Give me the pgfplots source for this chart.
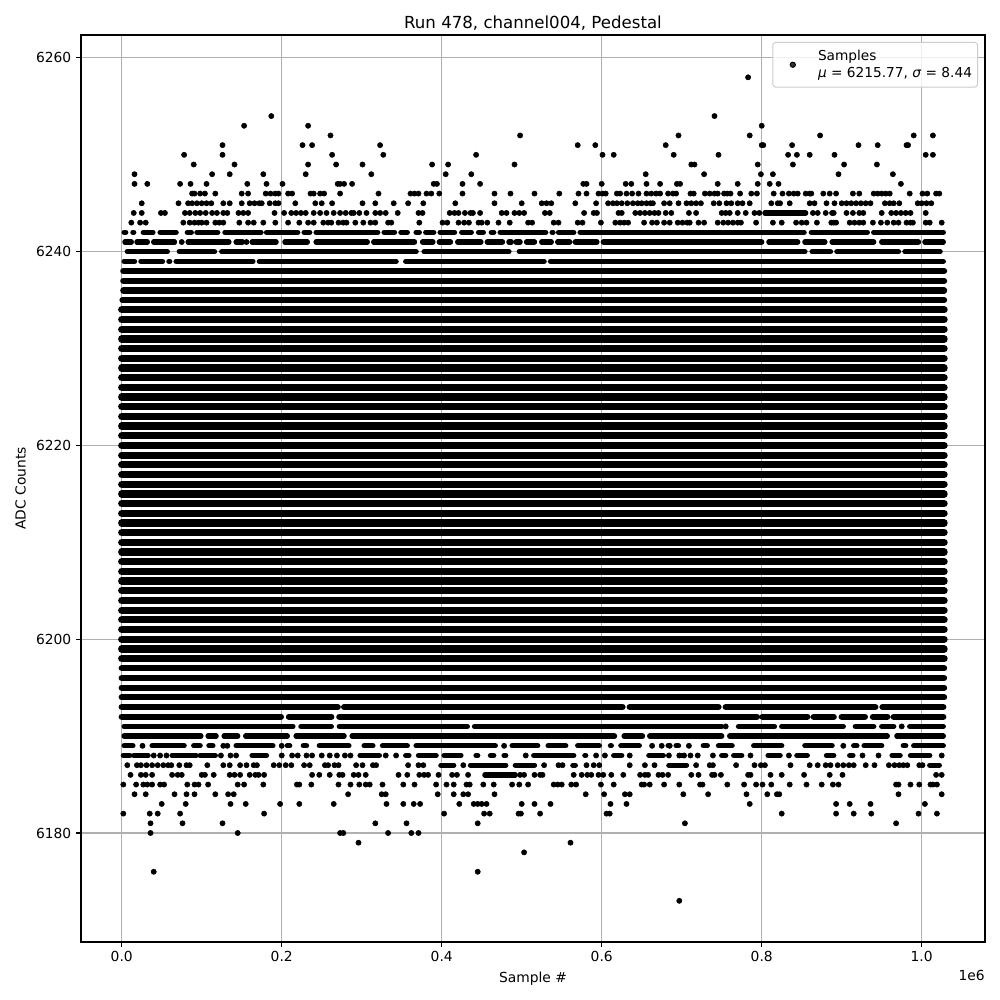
\documentclass[border=0pt]{standalone}
\usepackage{fontspec}
\setmainfont{DejaVu Sans}
\usepackage{pgfplots}
\pgfplotsset{compat=1.18}
\definecolor{gridc}{HTML}{B0B0B0}
% x values are in thousands of samples (axis factor 1e6 shown with ticks 0.0 ... 1.0)
\pgfplotstableread{
x y
783 6258
187 6254
741 6254
153 6253
233 6253
800 6253
261 6252
498 6252
696 6252
785 6252
873 6252
990 6252
1014 6252
126 6251
226 6251
238 6251
323 6251
570 6251
592 6251
680 6251
800 6251
802 6251
838 6251
921 6251
945 6251
981 6251
983 6251
78 6250
126 6250
263 6250
327 6250
443 6250
601 6250
615 6250
690 6250
746 6250
833 6250
844 6250
860 6250
891 6250
1005 6250
1014 6250
90 6249
141 6249
233 6249
268 6249
301 6249
388 6249
408 6249
491 6249
712 6249
716 6249
795 6249
839 6249
903 6249
944 6249
16 6248
113 6248
135 6248
177 6248
230 6248
312 6248
405 6248
437 6248
655 6248
728 6248
799 6248
814 6248
896 6248
964 6248
16 6247
32 6247
73 6247
86 6247
106 6247
157 6247
181 6247
201 6247
270 6247
273 6247
278 6247
288 6247
390 6247
394 6247
426 6247
448 6247
577 6247
581 6247
600 6247
630 6247
637 6247
656 6247
673 6247
694 6247
698 6247
745 6247
770 6247
795 6247
810 6247
821 6247
974 6247
88 6246
91 6246
98 6246
104 6246
117 6246
150 6246
158 6246
180 6246
186 6246
192 6246
196 6246
208 6246
213 6246
236 6246
240 6246
248 6246
253 6246
273 6246
321 6246
361 6246
366 6246
371 6246
381 6246
387 6246
397 6246
426 6246
466 6246
486 6246
516 6246
547 6246
571 6246
581 6246
596 6246
601 6246
605 6246
619 6246
623 6246
631 6246
638 6246
646 6246
656 6246
662 6246
668 6246
673 6246
683 6246
689 6246
693 6246
711 6246
715 6246
729 6246
735 6246
741 6246
745 6246
753 6246
757 6246
761 6246
773 6246
787 6246
794 6246
815 6246
826 6246
834 6246
840 6246
845 6246
855 6246
860 6246
862 6246
877 6246
885 6246
893 6246
914 6246
922 6246
940 6246
945 6246
950 6246
955 6246
960 6246
985 6246
1001 6246
1007 6246
1018 6246
1022 6246
25 6245
71 6245
83 6245
88 6245
94 6245
100 6245
106 6245
112 6245
127 6245
135 6245
150 6245
160 6245
166 6245
172 6245
175 6245
185 6245
192 6245
196 6245
217 6245
242 6245
250 6245
263 6245
301 6245
317 6245
340 6245
358 6245
377 6245
417 6245
466 6245
500 6245
525 6245
531 6245
537 6245
567 6245
593 6245
608 6245
614 6245
619 6245
625 6245
632 6245
639 6245
645 6245
650 6245
656 6245
661 6245
664 6245
678 6245
685 6245
696 6245
706 6245
712 6245
718 6245
724 6245
740 6245
747 6245
756 6245
762 6245
770 6245
776 6245
785 6245
812 6245
820 6245
823 6245
835 6245
860 6245
866 6245
881 6245
891 6245
900 6245
906 6245
912 6245
918 6245
924 6245
930 6245
936 6245
954 6245
960 6245
965 6245
972 6245
995 6245
1000 6245
1006 6245
1012 6245
15 6244
25 6244
49 6244
54 6244
79 6244
85 6244
92 6244
98 6244
105 6244
113 6244
119 6244
127 6244
132 6244
146 6244
152 6244
158 6244
191 6244
203 6244
212 6244
218 6244
224 6244
230 6244
240 6244
248 6244
256 6244
265 6244
273 6244
280 6244
287 6244
290 6244
297 6244
306 6244
317 6244
323 6244
330 6244
345 6244
371 6244
376 6244
410 6244
416 6244
421 6244
429 6244
436 6244
439 6244
448 6244
475 6244
481 6244
491 6244
497 6244
503 6244
529 6244
535 6244
578 6244
590 6244
594 6244
621 6244
625 6244
642 6244
648 6244
654 6244
660 6244
666 6244
671 6244
680 6244
687 6244
709 6244
718 6244
750 6244
755 6244
760 6244
770 6244
780 6244
791 6244
797 6244
864 6244
870 6244
880 6244
888 6244
890 6244
906 6244
914 6244
922 6244
927 6244
950 6244
962 6244
968 6244
974 6244
980 6244
986 6244
1005 6244
12 6243
23 6243
30 6243
77 6243
85 6243
91 6243
96 6243
100 6243
106 6243
117 6243
122 6243
127 6243
147 6243
158 6243
165 6243
177 6243
192 6243
208 6243
222 6243
233 6243
240 6243
252 6243
258 6243
262 6243
271 6243
277 6243
281 6243
292 6243
302 6243
311 6243
317 6243
333 6243
337 6243
372 6243
401 6243
407 6243
421 6243
428 6243
434 6243
446 6243
450 6243
457 6243
471 6243
485 6243
508 6243
513 6243
540 6243
546 6243
570 6243
576 6243
599 6243
617 6243
623 6243
628 6243
633 6243
653 6243
663 6243
669 6243
678 6243
685 6243
695 6243
701 6243
707 6243
710 6243
721 6243
728 6243
745 6243
752 6243
758 6243
764 6243
770 6243
774 6243
793 6243
814 6243
825 6243
843 6243
850 6243
856 6243
869 6243
887 6243
890 6243
893 6243
910 6243
916 6243
922 6243
927 6243
939 6243
949 6243
957 6243
965 6243
971 6243
981 6243
986 6243
989 6243
1005 6243
1010 6243
1025 6243
75 6241
156 6241
755 6191
975 6191
26 6189
127 6189
132 6189
200 6189
478 6189
663 6189
675 6189
685 6189
709 6189
902 6189
40 6188
48 6188
56 6188
124 6188
136 6188
143 6188
200 6188
213 6188
220 6188
231 6188
238 6188
250 6188
260 6188
269 6188
279 6188
286 6188
330 6188
343 6188
505 6188
593 6188
604 6188
635 6188
684 6188
697 6188
703 6188
711 6188
720 6188
739 6188
786 6188
834 6188
926 6188
946 6188
1025 6188
7 6187
19 6187
24 6187
31 6187
38 6187
45 6187
52 6187
58 6187
62 6187
72 6187
81 6187
85 6187
107 6187
127 6187
135 6187
148 6187
156 6187
165 6187
169 6187
190 6187
197 6187
205 6187
212 6187
228 6187
235 6187
254 6187
258 6187
266 6187
271 6187
293 6187
301 6187
314 6187
318 6187
358 6187
371 6187
377 6187
427 6187
528 6187
546 6187
551 6187
581 6187
590 6187
597 6187
635 6187
654 6187
666 6187
718 6187
735 6187
739 6187
768 6187
791 6187
799 6187
804 6187
836 6187
860 6187
870 6187
880 6187
886 6187
895 6187
902 6187
909 6187
915 6187
930 6187
941 6187
959 6187
966 6187
972 6187
977 6187
982 6187
997 6187
1001 6187
11 6186
24 6186
30 6186
38 6186
63 6186
70 6186
75 6186
100 6186
104 6186
115 6186
135 6186
141 6186
148 6186
160 6186
167 6186
171 6186
178 6186
238 6186
247 6186
260 6186
272 6186
276 6186
290 6186
296 6186
305 6186
346 6186
357 6186
372 6186
378 6186
383 6186
396 6186
413 6186
419 6186
433 6186
498 6186
503 6186
516 6186
523 6186
526 6186
565 6186
575 6186
582 6186
587 6186
596 6186
602 6186
612 6186
627 6186
648 6186
654 6186
658 6186
671 6186
676 6186
683 6186
712 6186
721 6186
738 6186
741 6186
749 6186
783 6186
786 6186
811 6186
825 6186
853 6186
885 6186
901 6186
1018 6186
1025 6186
2 6185
18 6185
27 6185
32 6185
38 6185
48 6185
53 6185
82 6185
91 6185
96 6185
108 6185
145 6185
153 6185
177 6185
219 6185
222 6185
237 6185
271 6185
286 6185
297 6185
305 6185
310 6185
326 6185
352 6185
366 6185
393 6185
406 6185
415 6185
431 6185
435 6185
452 6185
465 6185
488 6185
497 6185
508 6185
540 6185
545 6185
550 6185
562 6185
568 6185
599 6185
615 6185
650 6185
653 6185
660 6185
678 6185
697 6185
723 6185
726 6185
757 6185
778 6185
793 6185
801 6185
812 6185
835 6185
856 6185
875 6185
889 6185
896 6185
968 6185
971 6185
986 6185
997 6185
1011 6185
1014 6185
1019 6185
16 6184
30 6184
66 6184
81 6184
91 6184
117 6184
133 6184
140 6184
283 6184
325 6184
330 6184
395 6184
415 6184
427 6184
433 6184
466 6184
580 6184
603 6184
629 6184
635 6184
702 6184
733 6184
781 6184
807 6184
819 6184
822 6184
971 6184
1025 6184
50 6183
80 6183
136 6183
155 6183
198 6183
222 6183
265 6183
331 6183
352 6183
365 6183
373 6183
422 6183
440 6183
445 6183
450 6183
456 6183
500 6183
516 6183
536 6183
611 6183
631 6183
785 6183
893 6183
910 6183
936 6183
1004 6183
2 6182
35 6182
45 6182
73 6182
178 6182
403 6182
453 6182
460 6182
496 6182
499 6182
523 6182
606 6182
610 6182
825 6182
893 6182
915 6182
937 6182
996 6182
1019 6182
36 6181
76 6181
126 6181
317 6181
356 6181
445 6181
704 6181
968 6181
36 6180
145 6180
273 6180
277 6180
333 6180
362 6180
371 6180
296 6179
561 6179
503 6178
40 6176
445 6176
697 6173
}\pointsdata
\begin{document}
\begin{tikzpicture}
\path[use as bounding box] (-58.54pt,-41.92pt) rectangle ++(722.7pt,722.7pt);
\begin{axis}[
  at={(0,0)}, anchor=south west,
  scale only axis, width=653.3pt, height=655.5pt,
  xmin=-50.9, xmax=1079.1, ymin=6168.75, ymax=6262.37,
  xtick={0,200,400,600,800,1000},
  xticklabels={0.0,0.2,0.4,0.6,0.8,1.0},
  ytick={6180,6200,6220,6240,6260},
  yticklabels={6180,6200,6220,6240,6260},
  tick align=outside, tick pos=left,
  major tick length=3.5pt,
  every tick/.style={black,line width=0.8pt},
  axis line style={black,line width=0.8pt},
  grid=major, major grid style={gridc,line width=0.8pt},
  unbounded coords=jump,
  title={Run 478, channel004, Pedestal},
  title style={font=\fontsize{12}{14}\selectfont, yshift=-6.5pt},
  xlabel={Sample \#}, ylabel={ADC Counts},
  xlabel style={yshift=0pt}, ylabel style={yshift=0.5pt},
  tick label style={font=\fontsize{10}{12}\selectfont},
  label style={font=\fontsize{10}{12}\selectfont},
  legend style={at={(0.9923,0.9923)}, anchor=north east, rounded corners=2pt,
    draw=black!20, line width=0.7pt, fill=white, fill opacity=0.8, text opacity=1,
    font=\fontsize{9.9}{12}\selectfont, inner xsep=2pt, inner ysep=3.4pt},
  legend cell align=left,
  legend image code/.code={\path[draw=none] (-12.5pt,0) -- (16.2pt,0);
    \draw[#1] plot coordinates {(0pt,0pt)};},
  after end axis/.code={\node[anchor=north east, font=\fontsize{10}{12}\selectfont, inner sep=0pt] at (rel axis cs:1,0) [yshift=-20pt] {1e6};},
]
\addplot[only marks, mark=*, mark size=1.88pt, black, mark options={draw=none, fill=black}]
  table[x=x,y=y] {\pointsdata};
\addlegendentry{\shortstack[l]{Samples\\\textit{μ} = 6215.77, \textit{σ} = 8.44}}
% thin rows (with gaps)
\addplot[forget plot, black, line width=3.85pt, line cap=round] coordinates {
(3,6242)(5,6242)(nan,nan)(14,6242)(15,6242)(nan,nan)(27,6242)(39,6242)(nan,nan)(48,6242)(68,6242)(nan,nan)(82,6242)(87,6242)(nan,nan)(94,6242)(120,6242)(nan,nan)(129,6242)(174,6242)(nan,nan)(181,6242)(220,6242)(nan,nan)(228,6242)(235,6242)(nan,nan)(243,6242)(320,6242)(nan,nan)(328,6242)(341,6242)(nan,nan)(349,6242)(357,6242)(nan,nan)(368,6242)(372,6242)(nan,nan)(380,6242)(390,6242)(nan,nan)(398,6242)(416,6242)(nan,nan)(425,6242)(437,6242)(nan,nan)(446,6242)(452,6242)(nan,nan)(462,6242)(465,6242)(nan,nan)(473,6242)(530,6242)(nan,nan)(538,6242)(539,6242)(nan,nan)(546,6242)(565,6242)(nan,nan)(573,6242)(853,6242)(nan,nan)(862,6242)(932,6242)(nan,nan)(940,6242)(1027,6242)(nan,nan)
(4,6241)(12,6241)(nan,nan)(19,6241)(32,6241)(nan,nan)(40,6241)(66,6241)(nan,nan)(83,6241)(134,6241)(nan,nan)(143,6241)(151,6241)(nan,nan)(163,6241)(193,6241)(nan,nan)(204,6241)(232,6241)(nan,nan)(243,6241)(307,6241)(nan,nan)(315,6241)(366,6241)(nan,nan)(376,6241)(389,6241)(nan,nan)(397,6241)(411,6241)(nan,nan)(420,6241)(449,6241)(nan,nan)(457,6241)(476,6241)(nan,nan)(484,6241)(487,6241)(nan,nan)(493,6241)(498,6241)(nan,nan)(506,6241)(516,6241)(nan,nan)(525,6241)(537,6241)(nan,nan)(545,6241)(560,6241)(nan,nan)(567,6241)(594,6241)(nan,nan)(602,6241)(800,6241)(nan,nan)(809,6241)(845,6241)(nan,nan)(854,6241)(879,6241)(nan,nan)(888,6241)(940,6241)(nan,nan)(950,6241)(996,6241)(nan,nan)(1004,6241)(1027,6241)(nan,nan)
(7,6240)(57,6240)(nan,nan)(72,6240)(116,6240)(nan,nan)(125,6240)(368,6240)(nan,nan)(378,6240)(484,6240)(nan,nan)(497,6240)(854,6240)(nan,nan)(863,6240)(886,6240)(nan,nan)(894,6240)(971,6240)(nan,nan)(979,6240)(1023,6240)(nan,nan)
(3,6239)(16,6239)(nan,nan)(24,6239)(51,6239)(nan,nan)(59,6239)(60,6239)(nan,nan)(68,6239)(164,6239)(nan,nan)(172,6239)(343,6239)(nan,nan)(355,6239)(528,6239)(nan,nan)(536,6239)(1027,6239)(nan,nan)
(3,6191)(214,6191)(nan,nan)(224,6191)(262,6191)(nan,nan)(272,6191)(432,6191)(nan,nan)(441,6191)(750,6191)(nan,nan)(771,6191)(816,6191)(nan,nan)(825,6191)(902,6191)(nan,nan)(917,6191)(940,6191)(nan,nan)(950,6191)(965,6191)(nan,nan)(985,6191)(1027,6191)(nan,nan)
(3,6190)(99,6190)(nan,nan)(108,6190)(118,6190)(nan,nan)(128,6190)(145,6190)(nan,nan)(155,6190)(207,6190)(nan,nan)(218,6190)(278,6190)(nan,nan)(288,6190)(616,6190)(nan,nan)(628,6190)(651,6190)(nan,nan)(660,6190)(750,6190)(nan,nan)(760,6190)(957,6190)(nan,nan)(969,6190)(1027,6190)(nan,nan)
(3,6189)(14,6189)(nan,nan)(38,6189)(78,6189)(nan,nan)(90,6189)(98,6189)(nan,nan)(109,6189)(114,6189)(nan,nan)(143,6189)(189,6189)(nan,nan)(207,6189)(210,6189)(nan,nan)(227,6189)(231,6189)(nan,nan)(247,6189)(284,6189)(nan,nan)(303,6189)(314,6189)(nan,nan)(326,6189)(357,6189)(nan,nan)(368,6189)(467,6189)(nan,nan)(488,6189)(520,6189)(nan,nan)(533,6189)(555,6189)(nan,nan)(570,6189)(597,6189)(nan,nan)(611,6189)(612,6189)(nan,nan)(624,6189)(647,6189)(nan,nan)(683,6189)(684,6189)(nan,nan)(693,6189)(696,6189)(nan,nan)(727,6189)(732,6189)(nan,nan)(746,6189)(763,6189)(nan,nan)(790,6189)(825,6189)(nan,nan)(854,6189)(888,6189)(nan,nan)(915,6189)(919,6189)(nan,nan)(928,6189)(950,6189)(nan,nan)(977,6189)(980,6189)(nan,nan)(990,6189)(1027,6189)(nan,nan)
(2,6188)(10,6188)(nan,nan)(15,6188)(33,6188)(nan,nan)(63,6188)(93,6188)(nan,nan)(98,6188)(117,6188)(nan,nan)(163,6188)(181,6188)(nan,nan)(298,6188)(322,6188)(nan,nan)(355,6188)(359,6188)(nan,nan)(371,6188)(393,6188)(nan,nan)(403,6188)(424,6188)(nan,nan)(443,6188)(445,6188)(nan,nan)(461,6188)(465,6188)(nan,nan)(478,6188)(480,6188)(nan,nan)(515,6188)(565,6188)(nan,nan)(579,6188)(580,6188)(nan,nan)(615,6188)(625,6188)(nan,nan)(659,6188)(677,6188)(nan,nan)(700,6188)(702,6188)(nan,nan)(750,6188)(755,6188)(nan,nan)(765,6188)(775,6188)(nan,nan)(808,6188)(823,6188)(nan,nan)(844,6188)(857,6188)(nan,nan)(881,6188)(890,6188)(nan,nan)(910,6188)(914,6188)(nan,nan)(963,6188)(973,6188)(nan,nan)(986,6188)(1010,6188)(nan,nan)
(399,6187)(415,6187)(nan,nan)(436,6187)(480,6187)(nan,nan)(492,6187)(516,6187)(nan,nan)(564,6187)(567,6187)(nan,nan)(684,6187)(706,6187)(nan,nan)(1010,6187)(1022,6187)(nan,nan)
(454,6186)(492,6186)(nan,nan)
(804,6244)(855,6244)(nan,nan)
};
% medium rows
\addplot[forget plot, black, line width=4.5pt, line cap=round] coordinates {
(2,6238)(1028,6238)(nan,nan)(2,6237)(1028,6237)(nan,nan)(2,6236)(1028,6236)(nan,nan)(1,6235)(1028,6235)(nan,nan)
(0,6193)(270,6193)(nan,nan)(278,6193)(626,6193)(nan,nan)(635,6193)(746,6193)(nan,nan)(755,6193)(942,6193)(nan,nan)(951,6193)(1027,6193)(nan,nan)
(0,6192)(199,6192)(nan,nan)(209,6192)(262,6192)(nan,nan)(272,6192)(794,6192)(nan,nan)(801,6192)(857,6192)(nan,nan)(865,6192)(890,6192)(nan,nan)(900,6192)(929,6192)(nan,nan)(939,6192)(957,6192)(nan,nan)(965,6192)(1027,6192)(nan,nan)
(0,6194)(1028,6194)(nan,nan)(0,6195)(1028,6195)(nan,nan)(0,6196)(1028,6196)(nan,nan)(0,6197)(1028,6197)(nan,nan)
};
% thickest, solid rows
\addplot[forget plot, black, line width=5.25pt, line cap=round] coordinates {
(0,6234)(1028,6234)(nan,nan)(0,6233)(1028,6233)(nan,nan)(0,6232)(1028,6232)(nan,nan)(0,6231)(1028,6231)(nan,nan)(0,6230)(1028,6230)(nan,nan)
(0,6229)(1028,6229)(nan,nan)(0,6228)(1028,6228)(nan,nan)(0,6227)(1028,6227)(nan,nan)(0,6226)(1028,6226)(nan,nan)(0,6225)(1028,6225)(nan,nan)
(0,6224)(1028,6224)(nan,nan)(0,6223)(1028,6223)(nan,nan)(0,6222)(1028,6222)(nan,nan)(0,6221)(1028,6221)(nan,nan)(0,6220)(1028,6220)(nan,nan)
(0,6219)(1028,6219)(nan,nan)(0,6218)(1028,6218)(nan,nan)(0,6217)(1028,6217)(nan,nan)(0,6216)(1028,6216)(nan,nan)(0,6215)(1028,6215)(nan,nan)
(0,6214)(1028,6214)(nan,nan)(0,6213)(1028,6213)(nan,nan)(0,6212)(1028,6212)(nan,nan)(0,6211)(1028,6211)(nan,nan)(0,6210)(1028,6210)(nan,nan)
(0,6209)(1028,6209)(nan,nan)(0,6208)(1028,6208)(nan,nan)(0,6207)(1028,6207)(nan,nan)(0,6206)(1028,6206)(nan,nan)(0,6205)(1028,6205)(nan,nan)
(0,6204)(1028,6204)(nan,nan)(0,6203)(1028,6203)(nan,nan)(0,6202)(1028,6202)(nan,nan)(0,6201)(1028,6201)(nan,nan)(0,6200)(1028,6200)(nan,nan)
(0,6199)(1028,6199)(nan,nan)(0,6198)(1028,6198)(nan,nan)
};
\end{axis}
\end{tikzpicture}
\end{document}
